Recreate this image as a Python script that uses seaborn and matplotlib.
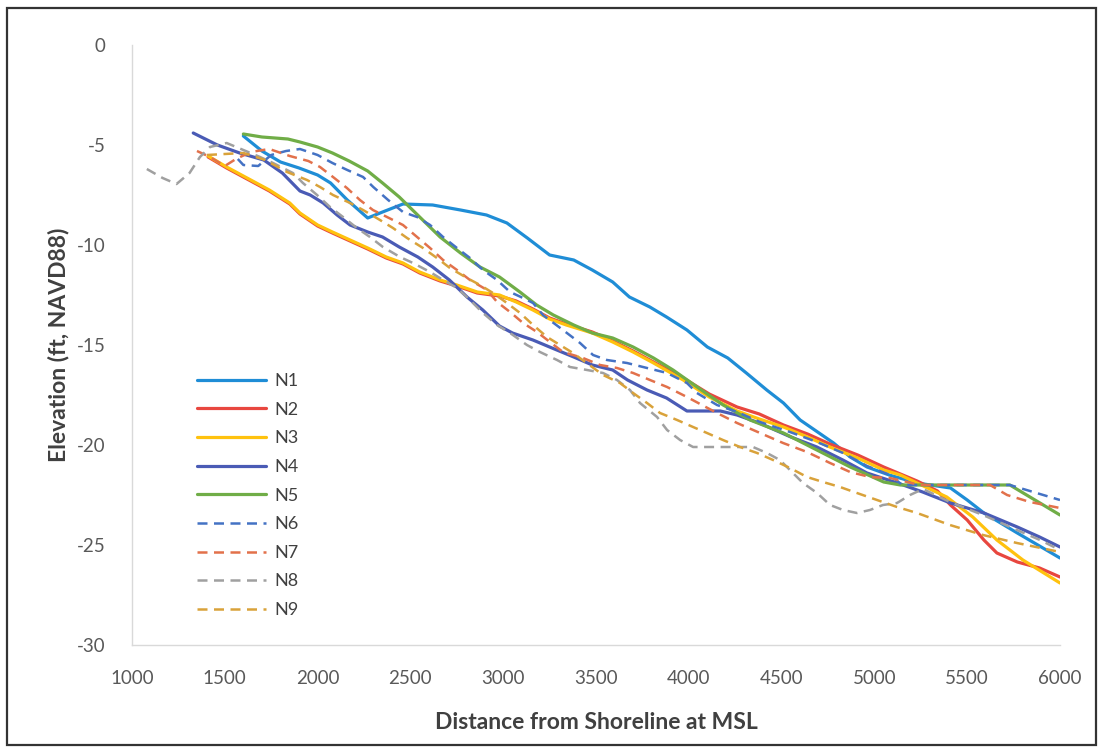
import matplotlib
matplotlib.use("Agg")
import matplotlib.pyplot as plt
import seaborn as sns
import pandas as pd
from matplotlib.lines import Line2D
from matplotlib.patches import Rectangle

# ---------------- data ----------------
profiles = ["N1", "N2", "N3", "N4", "N5", "N6", "N7", "N8", "N9"]

n1_x = [1600, 1700, 1800, 1900, 2000, 2070, 2160, 2270, 2350, 2460, 2620, 2770, 2910, 3020, 3130, 3250,
        3380, 3480, 3590, 3680, 3790, 3880, 3990, 4100, 4210, 4310, 4420, 4510, 4600, 4780, 4870, 4960,
        5080, 5230, 5410, 5500, 5590, 5770, 6000]
n1_y = [-4.55, -5.3, -5.85, -6.15, -6.5, -6.9, -7.75, -8.65, -8.35, -7.95, -8.0, -8.25, -8.5, -8.9, -9.65,
        -10.5, -10.75, -11.25, -11.85, -12.6, -13.1, -13.6, -14.25, -15.1, -15.65, -16.4, -17.25, -17.9,
        -18.75, -19.9, -20.6, -21.1, -21.5, -21.9, -22.15, -22.75, -23.4, -24.4, -25.65]

n2_x = [1410, 1510, 1620, 1740, 1850, 1905, 2000, 2080, 2175, 2270, 2370, 2460, 2550, 2660, 2750, 2860,
        2980, 3070, 3160, 3250, 3340, 3480, 3590, 3700, 3810, 3970, 4110, 4260, 4380, 4510, 4640, 4760,
        4910, 5050, 5140, 5230, 5340, 5410, 5500, 5590, 5660, 5770, 5890, 6000]
n2_y = [-5.6, -6.15, -6.7, -7.3, -7.95, -8.45, -9.05, -9.4, -9.8, -10.2, -10.65, -10.95, -11.4, -11.8,
        -12.05, -12.4, -12.55, -12.8, -13.2, -13.65, -13.95, -14.35, -14.8, -15.3, -15.85, -16.65, -17.45,
        -18.1, -18.45, -19.0, -19.45, -19.95, -20.5, -21.1, -21.45, -21.8, -22.3, -23.0, -23.75, -24.75,
        -25.4, -25.85, -26.15, -26.6]

n3_x = [1410, 1510, 1620, 1740, 1850, 1905, 2000, 2080, 2175, 2270, 2370, 2460, 2550, 2660, 2750, 2860,
        2980, 3070, 3160, 3250, 3340, 3480, 3590, 3700, 3810, 3970, 4110, 4260, 4380, 4510, 4640, 4760,
        4910, 5050, 5140, 5230, 5390, 5530, 5660, 5800, 6000]
n3_y = [-5.55, -6.1, -6.65, -7.25, -7.9, -8.4, -9.0, -9.35, -9.75, -10.15, -10.6, -10.9, -11.35, -11.75,
        -12.0, -12.35, -12.5, -12.85, -13.25, -13.7, -14.0, -14.4, -14.85, -15.35, -15.9, -16.75, -17.6,
        -18.3, -18.7, -19.1, -19.6, -20.1, -20.65, -21.25, -21.5, -21.9, -22.6, -23.6, -24.75, -25.75, -26.9]

n4_x = [1330, 1460, 1580, 1710, 1810, 1905, 1960, 2030, 2105, 2175, 2270, 2350, 2440, 2540, 2620, 2710,
        2805, 2890, 2980, 3050, 3160, 3250, 3380, 3480, 3590, 3670, 3775, 3880, 3990, 4170, 4260, 4380,
        4550, 4690, 4830, 4960, 5140, 5260, 5410, 5590, 5770, 5890, 6000]
n4_y = [-4.4, -5.0, -5.4, -5.75, -6.4, -7.3, -7.5, -7.9, -8.5, -9.0, -9.35, -9.6, -10.1, -10.6, -11.1,
        -11.75, -12.6, -13.25, -14.05, -14.4, -14.75, -15.1, -15.6, -16.0, -16.25, -16.75, -17.25, -17.65,
        -18.3, -18.3, -18.5, -18.9, -19.6, -20.1, -20.75, -21.4, -21.95, -22.35, -22.9, -23.4, -24.1,
        -24.6, -25.1]

n5_x = [1600, 1700, 1840, 1905, 2000, 2080, 2170, 2270, 2350, 2440, 2550, 2660, 2770, 2875, 2980, 3090,
        3180, 3270, 3380, 3480, 3590, 3700, 3810, 3915, 4045, 4185, 4330, 4510, 4690, 4870, 5050, 5140,
        5730, 6000]
n5_y = [-4.45, -4.6, -4.7, -4.85, -5.1, -5.4, -5.8, -6.3, -6.9, -7.6, -8.6, -9.6, -10.4, -11.1, -11.6,
        -12.35, -13.0, -13.5, -14.0, -14.4, -14.65, -15.1, -15.65, -16.25, -17.1, -18.0, -18.75, -19.4,
        -20.25, -21.1, -21.85, -22.0, -22.0, -23.5]

n6_x = [1570, 1600, 1680, 1750, 1830, 1905, 2000, 2080, 2160, 2245, 2300, 2380, 2460, 2536, 2606, 2676,
        2751, 2821, 2891, 2967, 3037, 3107, 3161, 3214, 3322, 3414, 3484, 3559, 3667, 3775, 3883, 3990,
        4044, 4152, 4260, 4384, 4545, 4691, 4831, 4960, 5084, 5150, 5730, 6000]
n6_y = [-5.7, -6.0, -6.05, -5.5, -5.3, -5.2, -5.5, -5.9, -6.25, -6.6, -7.1, -7.75, -8.35, -8.6, -9.0,
        -9.6, -10.15, -10.65, -11.25, -11.75, -12.35, -12.65, -12.9, -13.5, -14.25, -14.9, -15.5, -15.75,
        -15.9, -16.15, -16.4, -16.9, -17.4, -18.0, -18.35, -18.85, -19.35, -19.85, -20.4, -21.05, -21.5,
        -22.0, -22.0, -22.75]

n7_x = [1350, 1420, 1500, 1560, 1640, 1740, 1850, 1950, 2013, 2083, 2158, 2228, 2298, 2374, 2460, 2536,
        2606, 2676, 2751, 2821, 2913, 2967, 3037, 3107, 3182, 3252, 3322, 3430, 3522, 3613, 3700, 3791,
        3883, 3990, 4152, 4260, 4384, 4508, 4637, 4761, 4869, 4976, 5084, 5246, 5623, 5715, 5838, 6000]
n7_y = [-5.3, -5.6, -6.05, -5.7, -5.35, -5.2, -5.55, -5.8, -6.1, -6.6, -7.15, -7.75, -8.25, -8.6, -9.0,
        -9.6, -10.15, -10.75, -11.25, -11.75, -12.25, -12.85, -13.35, -13.9, -14.35, -14.85, -15.35,
        -15.65, -16.0, -16.15, -16.4, -16.75, -17.1, -17.6, -18.4, -18.9, -19.4, -19.9, -20.35, -20.9,
        -21.35, -21.6, -21.65, -22.0, -22.0, -22.5, -22.85, -23.15]

n8_x = [1080, 1165, 1240, 1310, 1366, 1420, 1510, 1600, 1690, 1760, 1867, 1921, 1997, 2067, 2137, 2212,
        2282, 2352, 2444, 2514, 2606, 2676, 2751, 2821, 2891, 2967, 3037, 3128, 3198, 3290, 3360, 3452,
        3538, 3613, 3683, 3737, 3829, 3883, 3953, 4023, 4346, 4421, 4491, 4561, 4615, 4691, 4761, 4831,
        4906, 4976, 5046, 5122, 5192, 5262, 5407, 5585, 5768, 5892, 6000]
n8_y = [-6.2, -6.65, -6.95, -6.4, -5.6, -5.1, -4.9, -5.25, -5.6, -5.9, -6.4, -6.9, -7.5, -8.1, -8.6,
        -9.15, -9.6, -10.1, -10.6, -10.9, -11.35, -11.75, -12.15, -12.75, -13.4, -14.0, -14.4, -15.0,
        -15.35, -15.75, -16.1, -16.25, -16.4, -16.75, -17.25, -17.9, -18.6, -19.25, -19.75, -20.1, -20.1,
        -20.4, -20.75, -21.4, -21.9, -22.4, -23.0, -23.25, -23.4, -23.25, -23.0, -22.9, -22.5, -22.2,
        -22.85, -23.5, -24.25, -24.75, -25.25]

n9_x = [1404, 1500, 1600, 1717, 1835, 1943, 2013, 2083, 2175, 2245, 2336, 2406, 2482, 2568, 2643, 2713,
        2805, 2875, 2945, 3020, 3091, 3161, 3236, 3376, 3538, 3629, 3700, 3775, 3845, 3937, 4023, 4098,
        4184, 4276, 4368, 4454, 4545, 4637, 4723, 4815, 4906, 5014, 5122, 5230, 5407, 5585, 5768, 6000]
n9_y = [-5.5, -5.45, -5.4, -5.75, -6.35, -6.75, -7.1, -7.5, -7.9, -8.25, -8.75, -9.15, -9.65, -10.15,
        -10.65, -11.15, -11.65, -12.0, -12.4, -12.9, -13.4, -14.0, -14.6, -15.4, -16.5, -16.9, -17.4,
        -17.9, -18.4, -18.75, -19.1, -19.4, -19.75, -20.1, -20.4, -20.75, -21.15, -21.6, -21.85, -22.1,
        -22.4, -22.75, -23.1, -23.4, -24.0, -24.5, -24.9, -25.35]

x_ticks = [1000, 1500, 2000, 2500, 3000, 3500, 4000, 4500, 5000, 5500, 6000]
y_ticks = [0, -5, -10, -15, -20, -25, -30]
x_label = "Distance from Shoreline at MSL"
y_label = "Elevation (ft, NAVD88)"

# ---------------- style ----------------
series_x = [n1_x, n2_x, n3_x, n4_x, n5_x, n6_x, n7_x, n8_x, n9_x]
series_y = [n1_y, n2_y, n3_y, n4_y, n5_y, n6_y, n7_y, n8_y, n9_y]
colors = ["#1F8DD6", "#E8473F", "#FFC20E", "#4A5BB5", "#70AD47",
          "#4472C4", "#E2714B", "#A0A0A0", "#D9A23A"]
dashed = [False] * 5 + [True] * 4

sns.set_theme(style="white")
plt.rcParams["font.family"] = ["Lato", "DejaVu Sans"]
plt.rcParams["axes.unicode_minus"] = False

fig = plt.figure(figsize=(10.99, 7.5), dpi=100)
ax = fig.add_axes([132 / 1099, 1 - 645 / 750, (1060 - 132) / 1099, 600 / 750])

frames = []
for name, xs, ys in zip(profiles, series_x, series_y):
    frames.append(pd.DataFrame({"dist": xs, "elev": ys, "profile": name}))
df = pd.concat(frames, ignore_index=True)

handles = []
for name, col, dsh in zip(profiles, colors, dashed):
    sub = df[df["profile"] == name]
    lw = 1.8 if dsh else 2.3
    ls = (0, (4, 2.6)) if dsh else "-"
    sns.lineplot(data=sub, x="dist", y="elev", ax=ax, color=col, linewidth=lw,
                 linestyle=ls, estimator=None, sort=False, legend=False)
    handles.append(Line2D([0], [0], color=col, lw=lw, linestyle=ls))

ax.set_xlim(1000, 6000)
ax.set_ylim(-30, 0)
ax.set_xticks(x_ticks)
ax.set_yticks(y_ticks)
ax.set_xticklabels([str(v) for v in x_ticks])
ax.set_yticklabels([str(v) for v in y_ticks])
ax.tick_params(axis="both", length=0, labelsize=13.5, colors="#595959")
ax.tick_params(axis="x", pad=18)
ax.tick_params(axis="y", pad=19)
ax.grid(False)
for s in ["top", "right"]:
    ax.spines[s].set_visible(False)
for s in ["left", "bottom"]:
    ax.spines[s].set_color("#D9D9D9")
    ax.spines[s].set_linewidth(1.0)

ax.set_xlabel(x_label, fontsize=16.5, fontweight="bold", color="#404040", labelpad=18)
ax.set_ylabel(y_label, fontsize=16.5, fontweight="bold", color="#404040", labelpad=5)

leg = fig.legend(handles, profiles, loc="upper left",
                 bbox_to_anchor=(197 / 1099, 1 - 373 / 750), frameon=False,
                 fontsize=13, handlelength=3.8, handletextpad=0.5,
                 labelspacing=0.7, borderpad=0, borderaxespad=0)
for t in leg.get_texts():
    t.set_color("#404040")

# outer frame
fig.patches.append(Rectangle((7 / 1099, 5 / 750), 1089 / 1099, 737 / 750,
                             transform=fig.transFigure, fill=False,
                             edgecolor="#333333", linewidth=1.6))

fig.savefig("out.png", dpi=100)
